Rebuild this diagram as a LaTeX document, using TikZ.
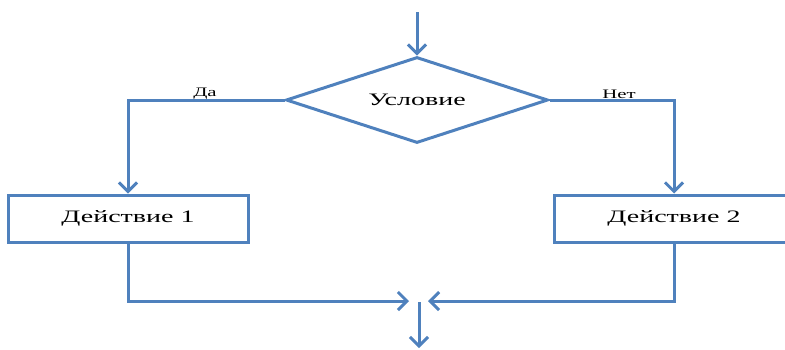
\documentclass[tikz,border=0pt]{standalone}
\usepackage{fontspec}
\setmainfont[FakeStretch=1.6]{Liberation Serif}
\usepackage{tikz}
\usetikzlibrary{arrows.meta, shapes.geometric}

\definecolor{flowblue}{HTML}{4F81BD}

\begin{document}
\begin{tikzpicture}[
  x=1pt, y=-1pt,
  >={Straight Barb[length=9pt,width=18pt]},
  line/.style={draw=flowblue, line width=3pt},
  decision/.style={diamond, line, aspect=3.05, inner sep=0pt,
    minimum width=262pt, minimum height=86pt, font=\fontsize{17.5}{20}\selectfont},
  action/.style={rectangle, line, inner sep=0pt,
    minimum width=240pt, minimum height=47pt, font=\fontsize{17.5}{20}\selectfont},
  branch/.style={font=\fontsize{13}{15}\selectfont, anchor=south, inner sep=1pt}
]
\useasboundingbox (0,0) rectangle (785,349);

% Condition
\coordinate (in) at (417,12);
\node[decision] (cond) at (417,100) {Условие};

% Actions
\node[action] (act1) at (128,218.5) {Действие 1};
\node[action] (act2) at (674,218.5) {Действие 2};

% Merge point
\coordinate (merge) at (419,301);
\coordinate (out) at (419,348);

% Connections
\draw[line,->] (in) -- (cond.north);
\draw[line,->] (cond.west) -| (act1.north);
\draw[line,->] (cond.east) -| (act2.north);
\draw[line,->] (act1.south) |- ([xshift=-10pt]merge);
\draw[line,->] (act2.south) |- ([xshift=9pt]merge);
\draw[line,->] ([yshift=-1pt]merge) -- (out);

% Labels
\node[branch] (yes) at (205,100) {Да};
\node[branch] (no) at (619,100) {Нет};

\end{tikzpicture}
\end{document}
